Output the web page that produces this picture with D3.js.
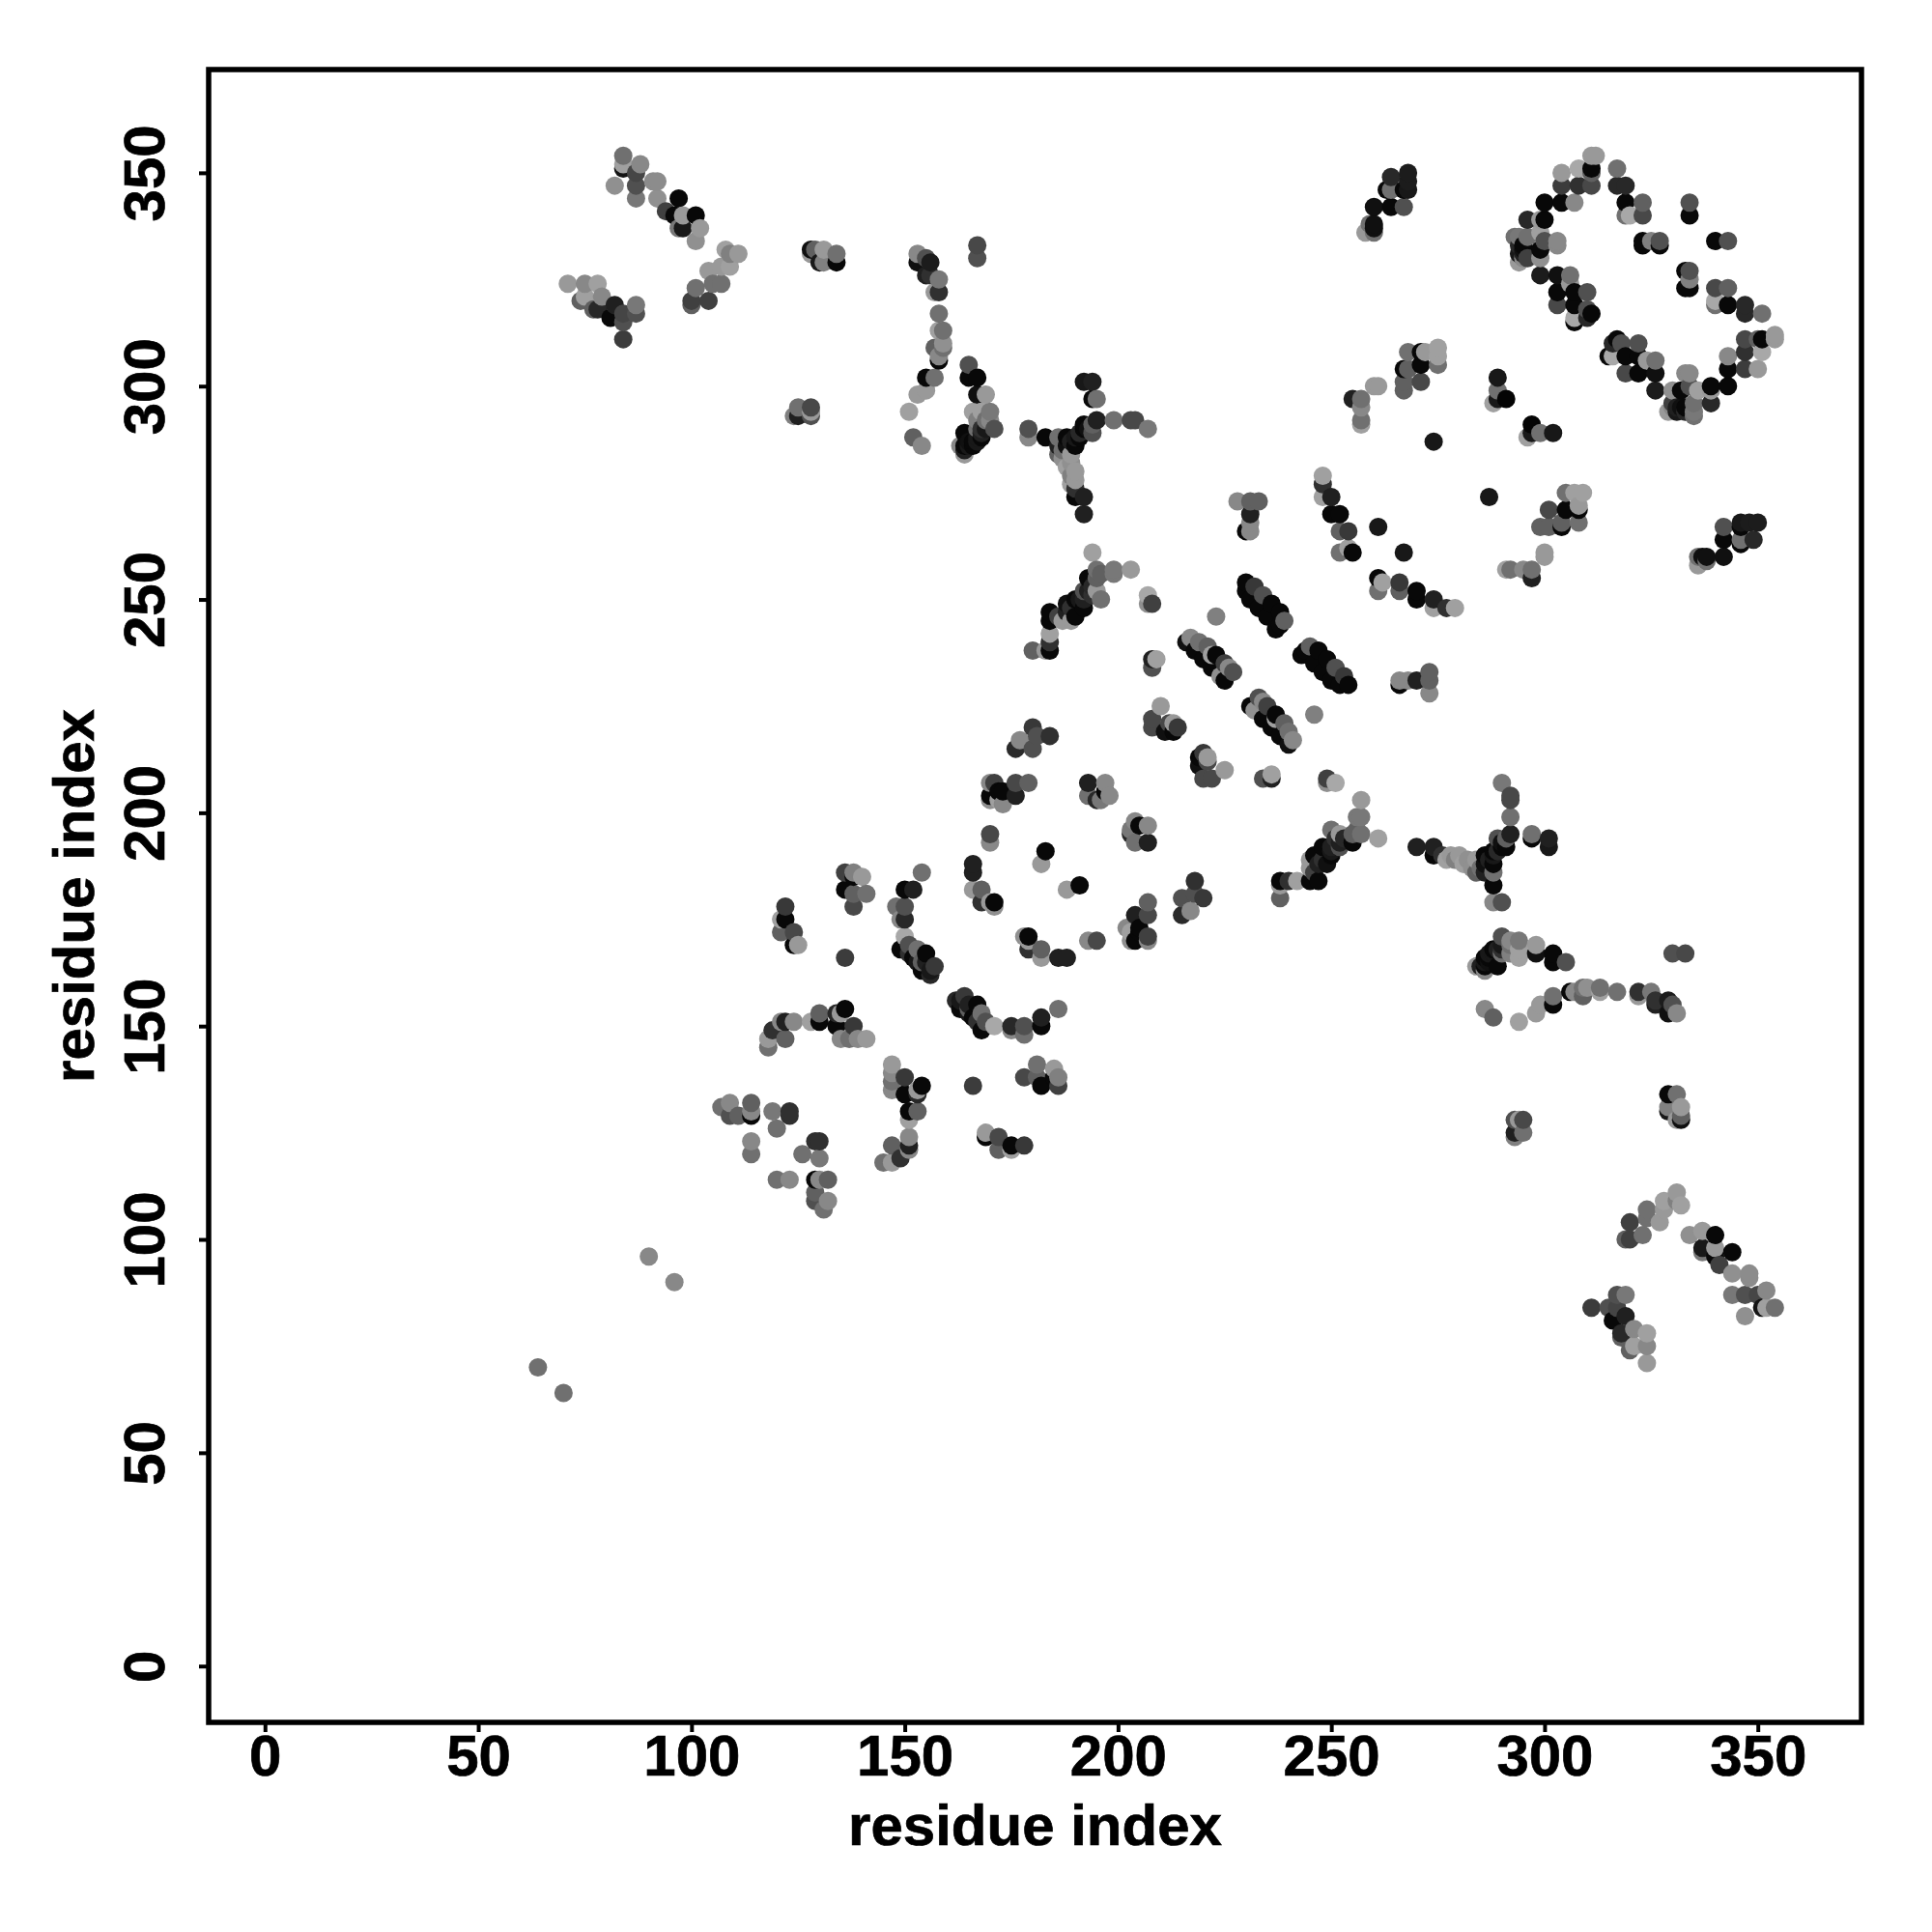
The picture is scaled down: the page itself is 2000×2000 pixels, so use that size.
<!DOCTYPE html>
<html><head><meta charset="utf-8">
<script src="https://cdn.jsdelivr.net/npm/d3@7/dist/d3.min.js"></script>
<style>html,body{margin:0;padding:0;background:#fff}svg{display:block}</style></head>
<body><svg id="c" width="2000" height="2000"></svg>
<script>
// contacts as [residue i, residue j, grey level]; each pair is listed once, the map is symmetric
const tickLabels=[0,50,100,150,200,250,300,350];
const axisTitle="residue index";
const farPairs=[[64,70,112],[90,96,136]];
const groupA=[[82,347,144],[84,351,20],[84,352,160],[84,354,112],[87,350,70],[87,347,80],[87,344,120],[88,352,136],[91,348,140],[92,348,140],[92,344,144],[94,341,64],[97,344,8],[96,340,8],[97,337,120],[98,337,24],[98,340,153],[101,340,8],[101,334,144],[102,337,153]];
const groupB=[[71,324,153],[75,324,136],[78,324,160],[74,320,96],[75,321,160],[79,321,136],[77,318,96],[78,318,40],[81,316,8],[82,319,32],[84,315,80],[84,317,69],[87,317,80],[87,319,120],[84,311,60]];
const groupC=[[100,319,96],[100,320,64],[104,320,64],[101,323,112],[105,324,112],[107,324,112],[104,327,153],[107,328,153],[109,328,160],[108,332,160],[109,331,128],[111,331,153]];
const groupD=[[128,331,153],[128,332,16],[129,332,96],[130,329,24],[131,329,128],[131,332,153],[134,329,8],[134,331,112],[124,293,128],[125,293,32],[125,295,112],[128,293,80],[128,294,153],[128,295,72]];
const groupE=[[153,331,136],[153,329,16],[155,330,80],[156,329,28],[155,326,32],[156,326,48],[157,322,153],[158,322,48],[158,325,120],[167,333,72],[167,330,80],[158,317,112],[158,313,160],[159,313,112],[157,309,96],[159,310,144],[159,309,112],[158,307,136],[158,306,8],[155,302,8],[157,302,112],[155,299,153],[153,298,153],[151,294,160],[152,288,96],[154,286,136]];
const groupF=[[165,305,80],[165,302,8],[167,302,8],[167,298,16],[169,298,153],[166,294,160],[167,292,128],[168,294,160],[170,294,120],[163,286,136],[164,284,153],[164,285,32],[164,286,8],[164,289,8],[165,286,24],[165,287,16],[166,286,8],[166,287,8],[167,287,24],[167,288,24],[168,288,8],[168,289,32],[168,290,48],[169,290,24],[169,292,112],[170,292,136],[167,290,112],[171,290,80]];
const groupG=[[179,288,136],[179,290,80],[183,288,8],[186,288,112],[186,286,32],[186,284,96],[187,283,144],[187,285,112],[188,281,160],[189,282,144],[189,284,153],[188,286,16],[189,287,32],[188,288,8],[190,286,8],[190,288,24],[191,288,8],[191,289,40],[192,290,8],[192,291,8],[193,290,16],[194,289,80],[194,291,96],[195,292,32],[192,301,24],[194,301,32],[194,297,8],[195,297,112],[199,292,112],[203,292,72],[204,292,72],[207,290,120],[189,279,128],[189,277,160],[190,280,153],[190,278,153],[190,276,48],[190,274,8],[192,274,32],[192,270,32]];
const groupH=[[263,346,8],[264,349,40],[268,350,28],[268,348,28],[264,346,112],[267,346,8],[268,346,24],[260,342,16],[264,342,8],[267,342,80],[259,338,112],[260,338,16],[258,336,153],[260,336,112],[260,337,16]];
const groupI=[[255,297,32],[257,297,112],[257,295,136],[257,292,112],[257,291,160],[260,300,153],[261,300,153],[267,299,96],[267,301,96],[267,304,8],[268,304,96],[268,308,112],[271,301,72],[271,305,8],[271,308,8],[272,308,153],[275,305,112],[275,307,160],[275,309,160]];
const groupJ=[[288,296,160],[289,297,24],[289,299,112],[289,302,24],[291,297,4]];
const groupK=[[293,335,112],[294,329,153],[294,331,24],[294,333,40],[294,335,120],[295,330,136],[295,331,32],[295,332,16],[295,333,8],[296,330,64],[296,335,112],[296,339,40],[299,339,153],[300,339,8],[299,336,160],[299,332,8],[299,330,144],[300,334,80],[303,333,136],[303,334,136],[300,343,8],[304,343,8],[307,343,136],[304,347,60],[308,347,48],[311,347,72],[311,350,96],[304,350,153],[308,351,168],[311,351,8],[311,354,153],[312,354,153]];
const groupL=[[299,326,28],[303,326,16],[306,324,153],[306,326,112],[303,322,8],[307,322,8],[310,322,80],[303,319,72],[307,319,8],[307,316,168],[307,315,8],[310,318,80],[310,316,40],[311,317,8]];
const groupM=[[317,351,112],[317,347,40],[319,347,40],[319,343,8],[323,343,96],[319,340,112],[320,340,168],[323,340,72],[323,333,8],[323,334,8],[325,334,128],[327,333,8],[327,334,80],[334,343,80],[334,340,8]];
const groupO=[[208,222,72],[208,220,72],[210,225,153],[211,219,16],[212,221,72],[213,219,8],[213,221,153],[214,220,56]];
const stripeOne=[[216,240,16],[217,241,136],[218,238,8],[219,240,112],[220,236,8],[221,239,96],[222,234,8],[222,237,160],[223,237,8],[224,232,144],[225,231,8],[225,235,64],[226,234,136],[227,233,80]];
const stripeTwo=[[230,254,8],[230,252,8],[232,253,56],[231,250,8],[234,251,80],[233,248,8],[236,249,8],[235,246,8],[238,247,8],[237,243,8],[238,244,8],[239,245,96]];
const groupP=[[184,247,8],[184,245,8],[184,242,160],[183,238,153],[184,240,48],[184,238,8],[180,238,96],[186,246,64],[187,245,153],[188,247,32],[188,249,16],[189,245,153],[189,248,48],[190,246,8],[190,250,8],[191,250,24],[192,248,8],[192,250,32],[192,252,80],[193,252,32],[194,251,48],[194,253,40],[193,255,8],[195,252,153],[195,255,96],[196,250,112],[196,256,96],[195,257,112],[194,261,160],[199,257,120],[199,256,120],[203,257,153]];
const groupQ=[[207,251,168],[208,249,64],[207,249,144],[209,236,160],[208,234,80],[208,236,32],[223,246,128]];
const groupR=[[184,218,48],[180,220,56],[177,217,136],[181,218,80],[176,215,42],[180,215,80],[179,207,96],[176,207,72],[176,204,32],[173,205,8],[173,202,136],[193,207,32],[197,207,136],[193,204,112],[195,203,40],[198,204,136],[196,203,120],[197,205,8],[170,195,72],[170,193,136],[172,205,8],[172,203,160],[170,203,144],[170,204,8],[170,207,136],[171,207,64],[183,191,8],[182,188,153]];
const groupU=[[248,279,160],[248,277,48],[248,274,160],[250,274,32],[250,270,8],[252,270,8],[252,266,96],[254,266,56],[252,261,112],[254,262,160],[255,261,8],[261,267,24]];
const groupW=[[266,231,136],[266,230,8],[268,231,136],[270,231,32],[273,233,96],[273,231,96],[273,228,136],[274,287,24],[208,249,72],[207,251,153]].filter(d=>d[0]>d[1]||d[0]===274);
const groupX=[[122,178,56],[121,175,160],[122,175,8],[121,172,96],[124,172,72],[124,169,8],[125,169,153],[136,166,60],[136,186,64],[138,186,128],[138,185,8],[140,185,153],[136,182,8],[138,181,96],[141,181,112],[138,178,72]];
const groupY=[[154,186,112],[150,182,8],[152,182,32],[148,178,112],[150,178,80],[149,175,136],[150,175,40],[150,171,168],[149,168,8],[151,169,80],[153,168,112],[151,167,48],[152,166,8],[153,165,24],[154,165,96],[155,165,32],[155,167,8],[154,163,8],[156,163,24],[156,162,40],[157,164,56]];
const groupZ=[[166,188,32],[166,186,32],[166,182,153],[168,182,96],[168,179,48],[170,179,153],[171,179,8],[171,178,144]];
const groupAA=[[118,145,112],[118,147,153],[119,149,48],[122,147,96],[121,151,136],[122,151,32],[124,151,136],[128,151,160],[130,153,96],[130,151,8],[134,153,40],[135,153,153],[136,154,8],[134,150,8],[138,150,56],[135,147,136],[137,147,112],[139,147,136],[141,147,153]];
const groupAC=[[107,131,112],[109,132,136],[109,129,80],[111,129,96],[114,132,96],[114,130,136],[114,129,8],[119,130,120],[123,130,48],[123,129,48],[120,126,112],[114,123,136],[114,120,112]];

const contactGroups=[farPairs,groupA,groupB,groupC,groupD,groupE,groupF,groupG,groupH,groupI,groupJ,groupK,groupL,groupM,groupO,stripeOne,stripeTwo,groupP,groupQ,groupR,groupU,groupW,groupX,groupY,groupZ,groupAA,groupAC];
const upper=contactGroups.flat();
const points=[];
upper.forEach(d=>{points.push({i:d[0],j:d[1],g:d[2]});points.push({i:d[1],j:d[0],g:d[2]});});
points.sort((a,b)=>a.i-b.i||a.j-b.j);

const svg=d3.select("#c");
const L=216,R=1927,T=72,B=1783;
const x=d3.scaleLinear().domain([-13.2,374.3]).range([L,R]);
const y=d3.scaleLinear().domain([-13.2,374.2]).range([B,T]);
const FONT='"Liberation Sans",Arial,sans-serif';

svg.append("g").selectAll("circle").data(points).join("circle")
 .attr("cx",d=>x(d.i)).attr("cy",d=>y(d.j)).attr("r",9.5)
 .attr("fill",d=>d3.rgb(d.g,d.g,d.g));

const ax=svg.append("g").attr("transform",`translate(0,${B})`)
 .call(d3.axisBottom(x).tickValues(tickLabels).tickSize(10).tickPadding(0).tickFormat(d3.format("d")));
ax.select(".domain").remove();
ax.selectAll("line").attr("stroke","#000").attr("stroke-width",4);
ax.selectAll("text").attr("y",55).attr("dy",0).attr("font-family",FONT).attr("font-weight","bold").attr("font-size",60).attr("fill","#000").attr("stroke","#000").attr("stroke-width",0.7);

const ay=svg.append("g").attr("transform",`translate(${L},0)`)
 .call(d3.axisLeft(y).tickValues(tickLabels).tickSize(10).tickPadding(0).tickFormat(d3.format("d")));
ay.select(".domain").remove();
ay.selectAll("line").attr("stroke","#000").attr("stroke-width",4);
ay.selectAll("text").attr("x",0).attr("dy",0).attr("text-anchor","middle")
 .attr("transform","translate(-46,0) rotate(-90)")
 .attr("font-family",FONT).attr("font-weight","bold").attr("font-size",60).attr("fill","#000").attr("stroke","#000").attr("stroke-width",0.7);

svg.append("rect").attr("x",L).attr("y",T).attr("width",R-L).attr("height",B-T)
 .attr("fill","none").attr("stroke","#000").attr("stroke-width",5.5);

svg.append("text").attr("x",(L+R)/2).attr("y",1910).attr("text-anchor","middle")
 .attr("font-family",FONT).attr("font-weight","bold").attr("font-size",60).attr("stroke","#000").attr("stroke-width",0.7).text(axisTitle);
svg.append("text").attr("transform",`translate(97,${(T+B)/2}) rotate(-90)`).attr("text-anchor","middle")
 .attr("font-family",FONT).attr("font-weight","bold").attr("font-size",60).attr("stroke","#000").attr("stroke-width",0.7).text(axisTitle);
</script></body></html>
